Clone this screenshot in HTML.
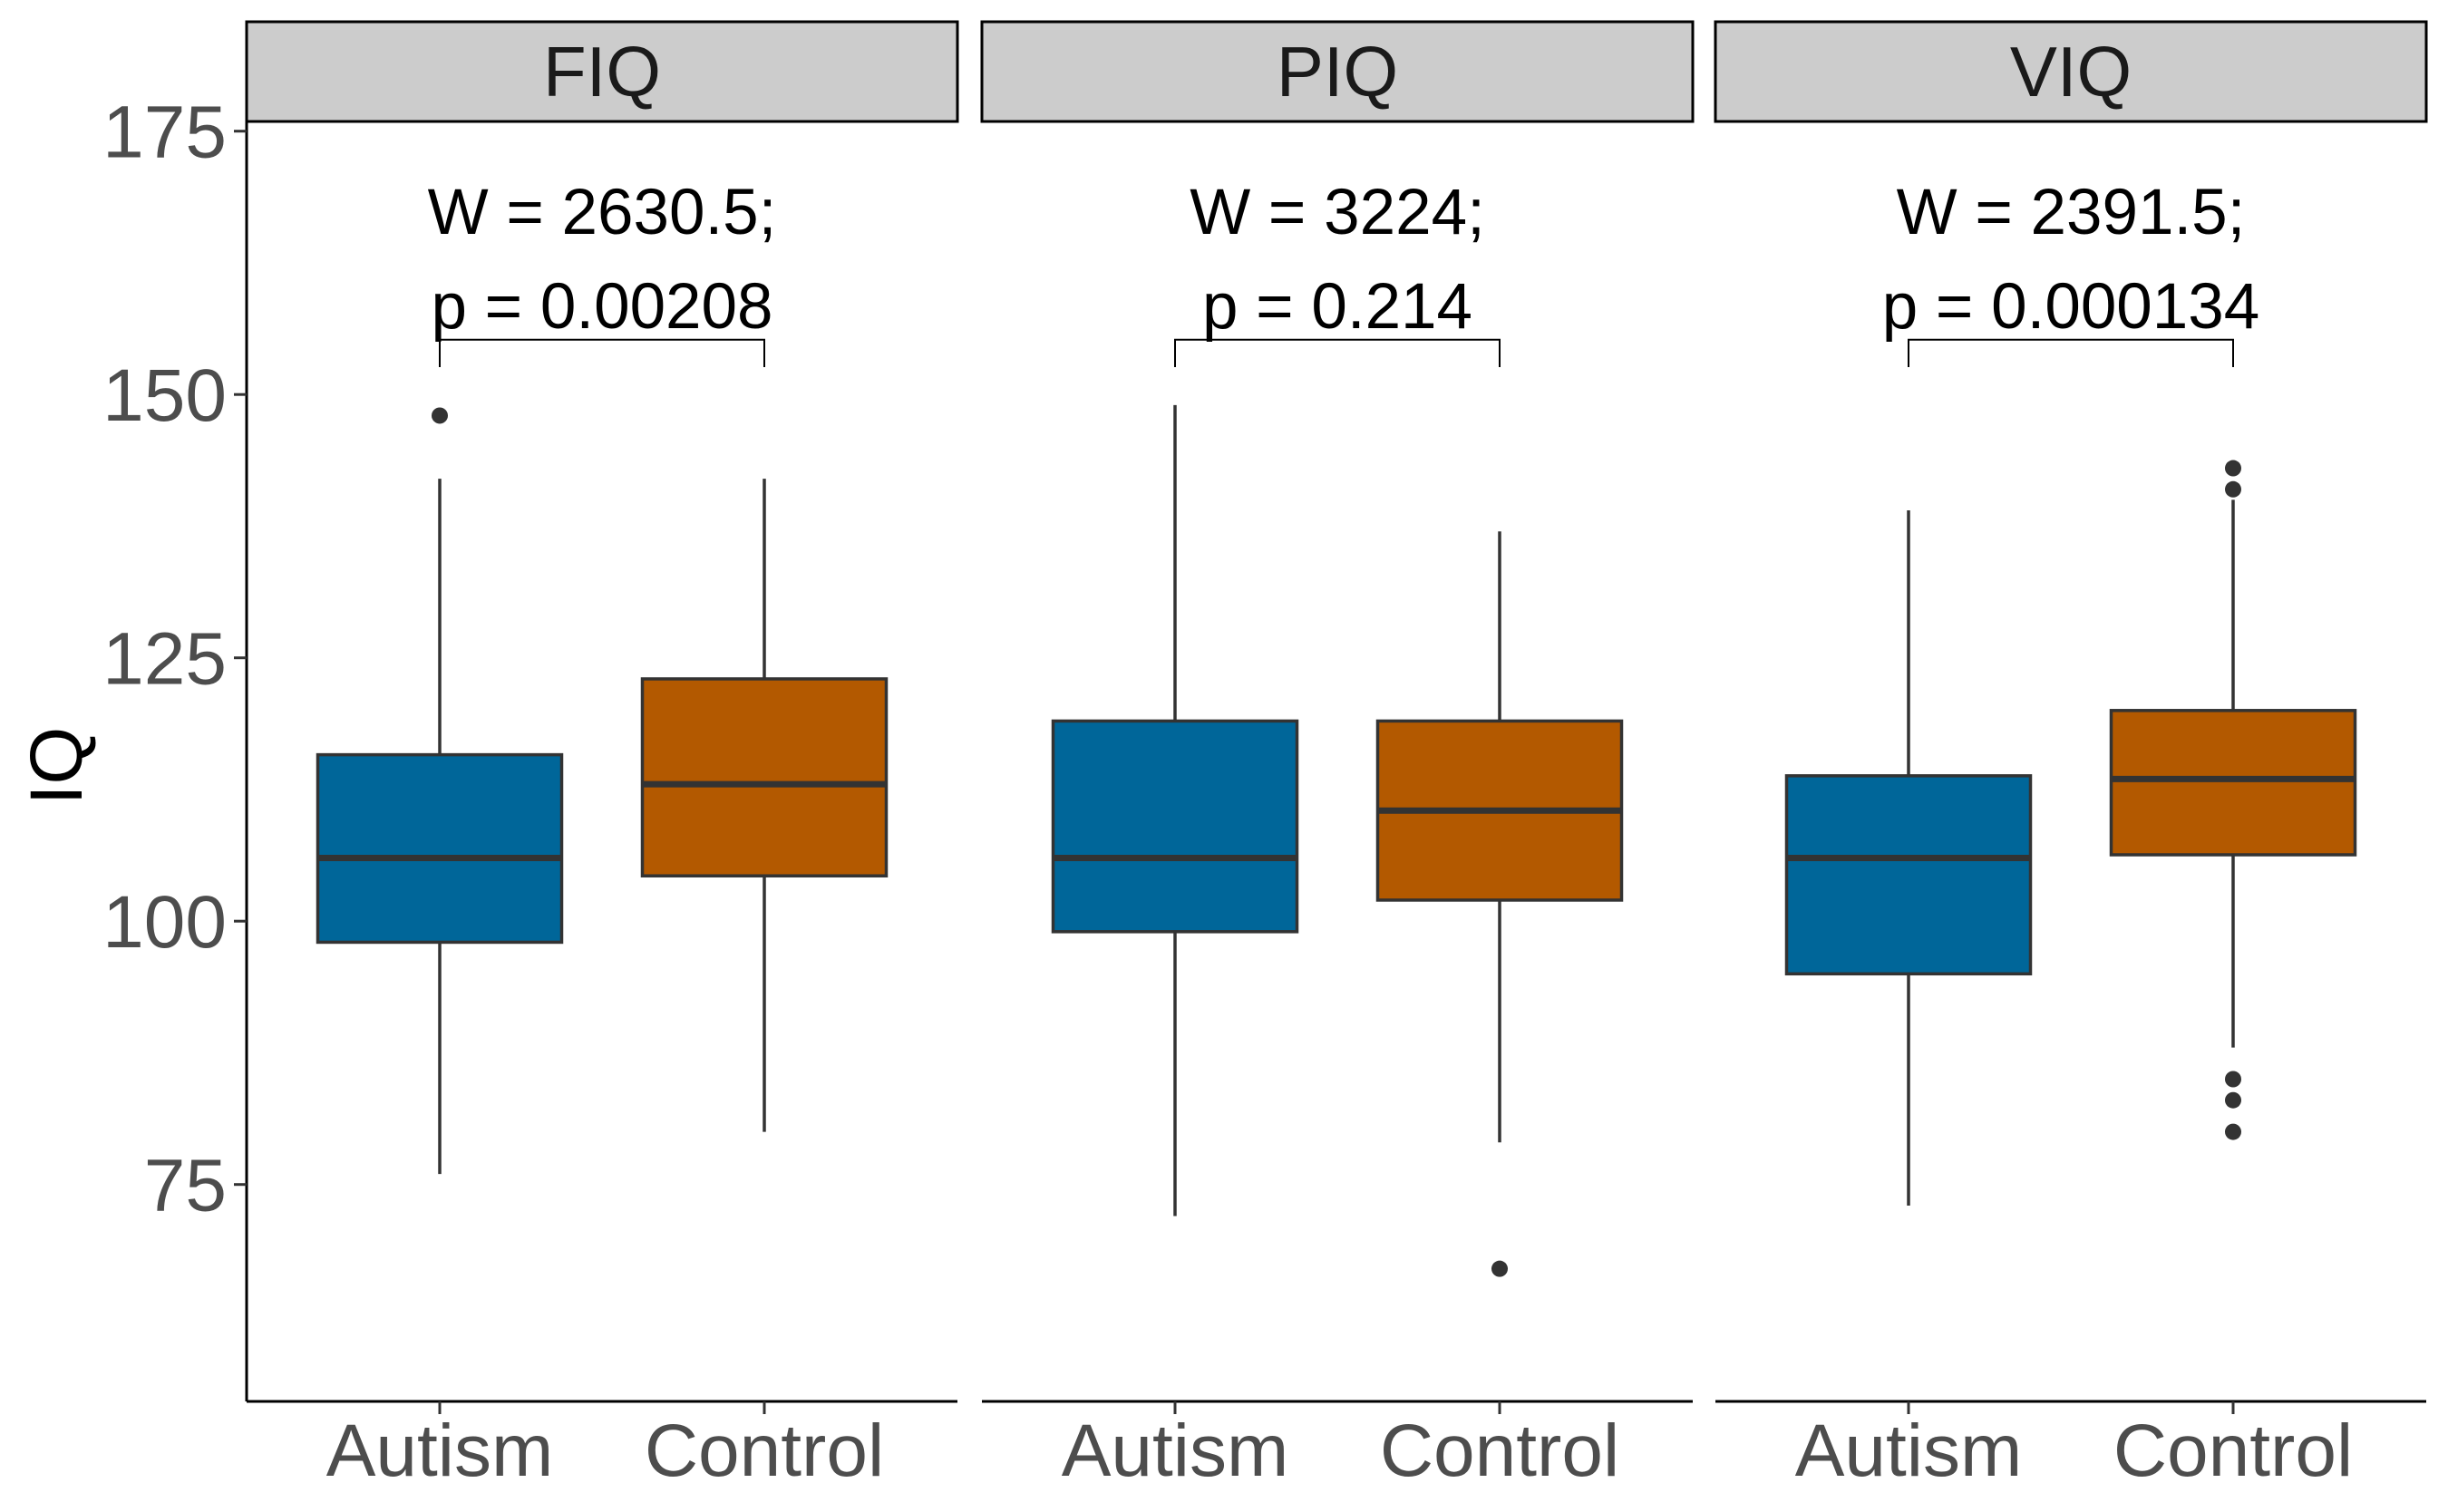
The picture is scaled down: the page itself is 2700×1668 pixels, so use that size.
<!DOCTYPE html>
<html><head><meta charset="utf-8"><style>
html,body{margin:0;padding:0;background:#fff;}
svg{display:block;font-family:"Liberation Sans",Arial,sans-serif;}
</style></head><body>
<svg id="chart" width="2700" height="1668" viewBox="0 0 2700 1668" xmlns="http://www.w3.org/2000/svg"></svg>
<script>
const panels = ["FIQ","PIQ","VIQ"];
const groups = ["Autism","Control"];
const lowWhisker = [[76,80],[72,79],[73,88]];
const q1Values = [[98,104.3],[99,102],[95,106.3]];
const medianValues = [[106,113],[106,110.5],[106,113.5]];
const q3Values = [[115.8,123],[119,119],[113.8,120]];
const highWhisker = [[142,142],[149,137],[139,140]];
const outlierValues = [[[148],[]],[[],[67]],[[],[143,141,85,83,80]]];
const statW = ["W = 2630.5;","W = 3224;","W = 2391.5;"];
const statP = ["p = 0.00208","p = 0.214","p = 0.000134"];
const yTicks = [75,100,125,150,175];
const bracketLevel = 155.2;

const NS="http://www.w3.org/2000/svg";
const svg=document.getElementById('chart');
const panelLeft=[272,1083,1892], panelW=784;
const stripTop=24, stripBot=134, axisBot=1546;
const colors=["#006699","#b35900"];
function y(v){return 144.7+(175-v)*11.62;}
function x(p,g){return panelLeft[p]+(g===0?213:571);}
function el(tag,attrs,parent){const e=document.createElementNS(NS,tag);for(const k in attrs)e.setAttribute(k,attrs[k]);(parent||svg).appendChild(e);return e;}

const yAxis=el('g',{});


el('line',{x1:272,y1:stripBot,x2:272,y2:axisBot,stroke:'#000','stroke-width':3},yAxis);
yTicks.forEach(t=>{
  el('line',{x1:258,y1:y(t),x2:272,y2:y(t),stroke:'#333','stroke-width':3},yAxis);
  const tx=el('text',{x:250,y:y(t)+29,'text-anchor':'end','font-size':82,fill:'#4d4d4d'},yAxis);
  tx.textContent=t;
  
  
});
const yl=el('text',{x:0,y:0,transform:'translate(90,845) rotate(-90)','text-anchor':'middle','font-size':82,fill:'#000'});
yl.textContent='IQ';



panels.forEach((name,p)=>{
  const g=el('g',{});
  
  
  const L=panelLeft[p];
  const strip=el('rect',{x:L,y:stripTop,width:panelW,height:stripBot-stripTop,fill:'#cccccc',stroke:'#000','stroke-width':3},g);
  
  
  const st=el('text',{x:L+panelW/2,y:stripBot-28,'text-anchor':'middle','font-size':78,fill:'#1a1a1a'},g);
  st.textContent=name;
  
  
  el('line',{x1:L,y1:axisBot,x2:L+panelW,y2:axisBot,stroke:'#000','stroke-width':3},g);
  groups.forEach((grp,gi)=>{
    const cx=x(p,gi);
    el('line',{x1:cx,y1:axisBot,x2:cx,y2:axisBot+14,stroke:'#333','stroke-width':3},g);
    const xl=el('text',{x:cx,y:1628,'text-anchor':'middle','font-size':82,fill:'#4d4d4d'},g);
    xl.textContent=grp;
    
    
    const bw=269;
    const wl=el('line',{x1:cx,y1:y(highWhisker[p][gi]),x2:cx,y2:y(lowWhisker[p][gi]),stroke:'#333','stroke-width':3.5},g);
    
    
    const bx=el('rect',{x:cx-bw/2,y:y(q3Values[p][gi]),width:bw,height:y(q1Values[p][gi])-y(q3Values[p][gi]),fill:colors[gi],stroke:'#333','stroke-width':3.5},g);
    
    
    const md=el('line',{x1:cx-bw/2,y1:y(medianValues[p][gi]),x2:cx+bw/2,y2:y(medianValues[p][gi]),stroke:'#333','stroke-width':7},g);
    
    
    outlierValues[p][gi].forEach(v=>{
      const c=el('circle',{cx:cx,cy:y(v),r:9,fill:'#333'},g);
      
      
    });
  });
  const x0=x(p,0),x1=x(p,1),by=y(bracketLevel),bt=y(bracketLevel-2.6);
  const br=el('path',{d:`M${x0},${bt}V${by}H${x1}V${bt}`,fill:'none',stroke:'#000','stroke-width':2},g);
  
  
  const mid=(x0+x1)/2;
  const t1=el('text',{x:mid,y:258,'text-anchor':'middle','font-size':71,fill:'#000'},g);
  t1.textContent=statW[p];
  
  
  const t2=el('text',{x:mid,y:362,'text-anchor':'middle','font-size':71,fill:'#000'},g);
  t2.textContent=statP[p];
  
  
});
</script>
</body></html>
